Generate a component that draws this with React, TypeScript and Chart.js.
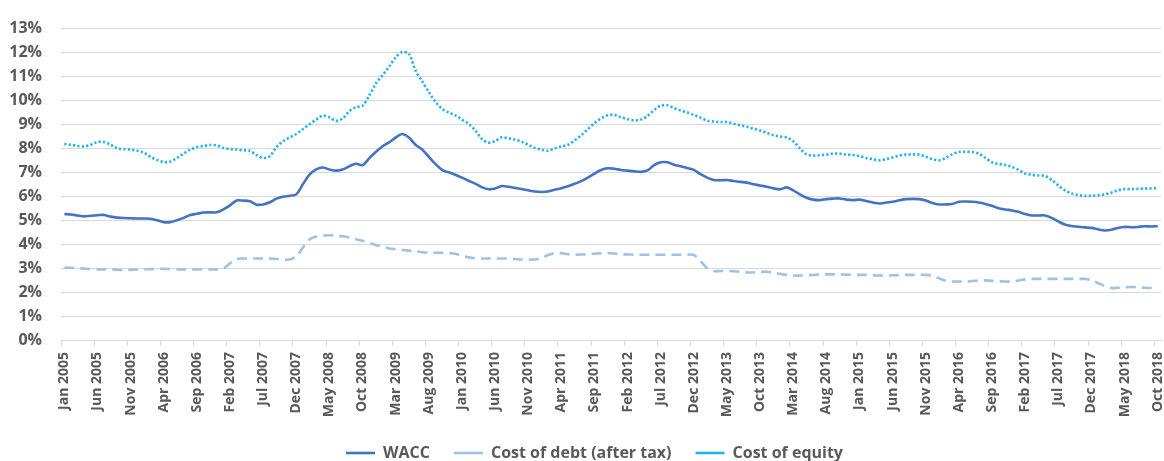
import React, { useEffect, useRef } from 'react';
import { Chart, registerables } from 'chart.js';

Chart.register(...registerables);

const MONTHS = ['Jan', 'Feb', 'Mar', 'Apr', 'May', 'Jun', 'Jul', 'Aug', 'Sep', 'Oct', 'Nov', 'Dec'];
const FIRST_YEAR = 2005;
const LABEL_EVERY = 5;

// WACC (%), monthly Jan 2005 - Oct 2018
const wacc = [
  5.26, 5.24, 5.2, 5.16, 5.19, 5.21, 5.22, 5.15, 5.11, 5.09, 5.08, 5.07,
  5.07, 5.06, 5.0, 4.92, 4.92, 5.0, 5.1, 5.22, 5.27, 5.32, 5.33, 5.33,
  5.45, 5.62, 5.82, 5.82, 5.79, 5.65, 5.66, 5.75, 5.9, 5.98, 6.02, 6.08,
  6.5, 6.9, 7.12, 7.2, 7.12, 7.07, 7.12, 7.25, 7.36, 7.3, 7.58, 7.85,
  8.08, 8.25, 8.45, 8.6, 8.45, 8.15, 7.95, 7.65, 7.35, 7.1, 7.0, 6.9,
  6.78, 6.65, 6.53, 6.38, 6.29, 6.32, 6.43, 6.4, 6.35, 6.3, 6.25, 6.2,
  6.18, 6.2, 6.27, 6.34, 6.42, 6.52, 6.63, 6.78, 6.95, 7.1, 7.17, 7.15,
  7.1, 7.07, 7.04, 7.02, 7.08, 7.3, 7.42, 7.42, 7.32, 7.25, 7.18, 7.1,
  6.92, 6.78, 6.68, 6.67, 6.68, 6.64, 6.6, 6.57, 6.5, 6.45, 6.4, 6.33,
  6.29, 6.37, 6.25, 6.08, 5.94, 5.86, 5.84, 5.88, 5.9, 5.91, 5.86, 5.84,
  5.86, 5.8, 5.74, 5.7, 5.74, 5.77, 5.83, 5.88, 5.89, 5.88, 5.82, 5.72,
  5.66, 5.66, 5.68, 5.77, 5.78, 5.77, 5.74, 5.68, 5.6, 5.5, 5.45, 5.41,
  5.35, 5.26, 5.2, 5.2, 5.2, 5.1, 4.95, 4.82, 4.76, 4.73, 4.7, 4.68,
  4.62, 4.57, 4.6, 4.68, 4.72, 4.71, 4.72, 4.75, 4.74, 4.75,
];

// Cost of debt after tax (%)
const costOfDebt = [
  3.02, 3.01, 3.0, 2.98, 2.96, 2.95, 2.95, 2.95, 2.93, 2.92, 2.93, 2.94,
  2.95, 2.96, 2.97, 2.97, 2.96, 2.95, 2.95, 2.95, 2.95, 2.95, 2.95, 2.95,
  2.98, 3.2, 3.38, 3.4, 3.4, 3.4, 3.4, 3.4, 3.38, 3.36, 3.36, 3.5,
  3.85, 4.2, 4.32, 4.36, 4.37, 4.36, 4.33, 4.28, 4.21, 4.14, 4.06, 3.97,
  3.9, 3.82, 3.79, 3.76, 3.73, 3.7, 3.66, 3.64, 3.64, 3.64, 3.63, 3.6,
  3.52, 3.45, 3.41, 3.4, 3.4, 3.4, 3.4, 3.4, 3.38, 3.36, 3.36, 3.36,
  3.42, 3.55, 3.63, 3.62, 3.58, 3.56, 3.57, 3.58, 3.6, 3.62, 3.63, 3.61,
  3.58, 3.57, 3.56, 3.56, 3.56, 3.56, 3.56, 3.56, 3.56, 3.56, 3.56, 3.55,
  3.3, 3.0, 2.88, 2.88, 2.88, 2.87, 2.85, 2.82, 2.82, 2.84, 2.85, 2.82,
  2.76, 2.72, 2.69, 2.69, 2.7, 2.72, 2.74, 2.74, 2.74, 2.74, 2.73, 2.72,
  2.72, 2.72, 2.7, 2.69, 2.69, 2.7, 2.71, 2.72, 2.72, 2.72, 2.72, 2.68,
  2.58, 2.47, 2.44, 2.44, 2.44, 2.46, 2.48, 2.49, 2.47, 2.45, 2.44, 2.44,
  2.48, 2.53, 2.55, 2.55, 2.55, 2.55, 2.55, 2.55, 2.55, 2.55, 2.55, 2.5,
  2.38, 2.25, 2.17, 2.18, 2.2, 2.21, 2.2, 2.18, 2.17, 2.17,
];

// Cost of equity (%)
const costOfEquity = [
  8.18, 8.15, 8.1, 8.08, 8.15, 8.27, 8.27, 8.15, 8.0, 7.97, 7.95, 7.9,
  7.82, 7.65, 7.52, 7.43, 7.45, 7.6, 7.78, 7.95, 8.05, 8.1, 8.14, 8.12,
  8.02, 7.97, 7.95, 7.92, 7.9, 7.72, 7.6, 7.67, 8.05, 8.3, 8.45, 8.6,
  8.8, 9.0, 9.2, 9.37, 9.3, 9.15, 9.25, 9.55, 9.72, 9.78, 10.2, 10.7,
  11.05, 11.4, 11.8, 12.02, 11.95, 11.25, 10.8, 10.35, 9.95, 9.65, 9.5, 9.38,
  9.2, 9.03, 8.75, 8.4, 8.24, 8.3, 8.46, 8.42, 8.37, 8.28, 8.15, 8.02,
  7.95, 7.9, 8.0, 8.08, 8.15, 8.33, 8.55, 8.8, 9.05, 9.25, 9.38, 9.4,
  9.3, 9.22, 9.17, 9.2, 9.35, 9.6, 9.78, 9.8, 9.68, 9.58, 9.5, 9.4,
  9.28, 9.16, 9.12, 9.1, 9.1, 9.03, 8.96, 8.9, 8.82, 8.75, 8.65, 8.55,
  8.5, 8.45, 8.3, 8.0, 7.75, 7.7, 7.71, 7.74, 7.78, 7.78, 7.74, 7.72,
  7.68, 7.6, 7.55, 7.5, 7.55, 7.62, 7.7, 7.74, 7.75, 7.74, 7.65, 7.55,
  7.5, 7.6, 7.75, 7.85, 7.86, 7.85, 7.78, 7.6, 7.42, 7.35, 7.31, 7.23,
  7.1, 6.95, 6.9, 6.87, 6.85, 6.68, 6.45, 6.25, 6.12, 6.05, 6.02, 6.02,
  6.04, 6.08, 6.15, 6.25, 6.3, 6.3, 6.31, 6.32, 6.33, 6.34,
];

const labels = wacc.map((_, i) => `${MONTHS[i % 12]} ${FIRST_YEAR + Math.floor(i / 12)}`);

const FONT = '"Open Sans", "DejaVu Sans", sans-serif';
const TEXT = '#595959';
const GRID = '#d9d9d9';

const legendShift = {
  id: 'legendShift',
  afterLayout(chart: any) {
    if (chart.legend) {
      chart.legend.left += 14;
      chart.legend.right += 14;
    }
  },
};

export default function App() {
  const ref = useRef<HTMLCanvasElement | null>(null);

  useEffect(() => {
    document.body.style.margin = '0';
    const canvas = ref.current;
    if (!canvas) return;
    const chart = new Chart(canvas, {
      type: 'line',
      data: {
        labels,
        datasets: [
          {
            label: 'WACC',
            data: wacc,
            borderColor: '#4472C4',
            backgroundColor: '#4472C4',
            borderWidth: 2.6,
            pointRadius: 0,
            tension: 0.3,
            fill: false,
          },
          {
            label: 'Cost of debt (after tax)',
            data: costOfDebt,
            borderColor: '#9DC3E6',
            backgroundColor: '#9DC3E6',
            borderWidth: 2.6,
            borderDash: [10, 6],
            pointRadius: 0,
            tension: 0.3,
            fill: false,
          },
          {
            label: 'Cost of equity',
            data: costOfEquity,
            borderColor: '#1DB4F0',
            backgroundColor: '#1DB4F0',
            borderWidth: 2.6,
            borderDash: [2.2, 2.2],
            pointRadius: 0,
            tension: 0.3,
            fill: false,
          },
        ],
      },
      plugins: [legendShift],
      options: {
        animation: false,
        responsive: false,
        layout: { padding: { left: 0, right: 3, top: 21, bottom: -10 } },
        plugins: {
          tooltip: { enabled: false },
          legend: {
            position: 'bottom',
            labels: {
              usePointStyle: true,
              pointStyle: 'line',
              pointStyleWidth: 29,
              padding: 24,
              color: TEXT,
              font: { family: FONT, size: 16, weight: 'bold' },
            },
          },
        },
        scales: {
          x: {
            offset: true,
            grid: {
              display: true,
              offset: true,
              drawOnChartArea: false,
              drawTicks: true,
              tickLength: 6,
              color: GRID,
              tickColor: (ctx: any) => (ctx.index !== undefined && ctx.index % LABEL_EVERY === 0 ? GRID : 'rgba(0,0,0,0)'),
            },
            border: { display: true, color: GRID },
            ticks: {
              autoSkip: false,
              minRotation: 90,
              maxRotation: 90,
              padding: 6,
              color: TEXT,
              font: { family: FONT, size: 14, weight: 'bold' },
              callback: (_v: any, i: number) => (i % LABEL_EVERY === 0 ? labels[i] : ''),
            },
            afterFit: (axis: any) => {
              axis.height = 81;
              axis.paddingLeft = 0;
              axis.paddingRight = 0;
            },
          },
          y: {
            min: 0,
            max: 13,
            grid: { color: GRID, drawTicks: false },
            border: { display: false },
            ticks: {
              stepSize: 1,
              padding: 19,
              color: TEXT,
              font: { family: FONT, size: 16, weight: 'bold' },
              callback: (v: any) => `${v}%`,
            },
            afterFit: (axis: any) => {
              axis.width = 61;
            },
          },
        },
      },
    });
    return () => chart.destroy();
  }, []);

  return (
    <div style={{ width: 1164, height: 461 }}>
      <canvas ref={ref} width={1164} height={461} style={{ display: 'block' }} />
    </div>
  );
}
